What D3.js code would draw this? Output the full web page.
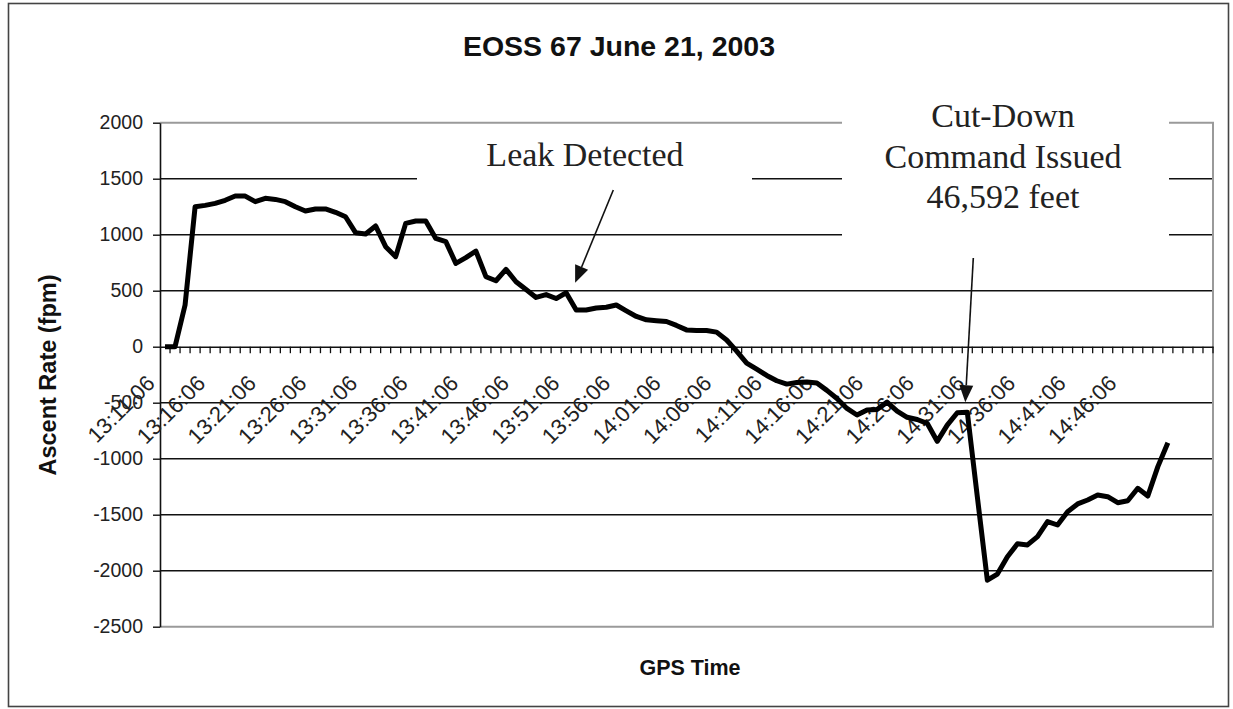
<!DOCTYPE html>
<html>
<head>
<meta charset="utf-8">
<script src="https://cdn.jsdelivr.net/npm/d3@7"></script>
<style>
  html, body { margin: 0; padding: 0; background: #fff; }
  svg { display: block; }
</style>
</head>
<body>
<svg id="chart" width="1233" height="709"></svg>
<script>
// ---------------- DATA ----------------
const categories = [
  "13:11:06","13:12:06","13:13:06","13:14:06","13:15:06","13:16:06","13:17:06","13:18:06","13:19:06","13:20:06",
  "13:21:06","13:22:06","13:23:06","13:24:06","13:25:06","13:26:06","13:27:06","13:28:06","13:29:06","13:30:06",
  "13:31:06","13:32:06","13:33:06","13:34:06","13:35:06","13:36:06","13:37:06","13:38:06","13:39:06","13:40:06",
  "13:41:06","13:42:06","13:43:06","13:44:06","13:45:06","13:46:06","13:47:06","13:48:06","13:49:06","13:50:06",
  "13:51:06","13:52:06","13:53:06","13:54:06","13:55:06","13:56:06","13:57:06","13:58:06","13:59:06","14:00:06",
  "14:01:06","14:02:06","14:03:06","14:04:06","14:05:06","14:06:06","14:07:06","14:08:06","14:09:06","14:10:06",
  "14:11:06","14:12:06","14:13:06","14:14:06","14:15:06","14:16:06","14:17:06","14:18:06","14:19:06","14:20:06",
  "14:21:06","14:22:06","14:23:06","14:24:06","14:25:06","14:26:06","14:27:06","14:28:06","14:29:06","14:30:06",
  "14:31:06","14:32:06","14:33:06","14:34:06","14:35:06","14:36:06","14:37:06","14:38:06","14:39:06","14:40:06",
  "14:41:06","14:42:06","14:43:06","14:44:06","14:45:06","14:46:06","14:47:06","14:48:06","14:49:06","14:50:06",
  "14:51:06","14:52:06","14:53:06","14:54:06","14:55:06"
];

// Ascent rate (fpm), one value per minute from 13:11:06
const ascentRate = [
  0, 0, 372, 1250, 1262, 1280, 1307, 1345, 1345, 1295,
  1325, 1315, 1295, 1250, 1212, 1230, 1230, 1200, 1160, 1018,
  1006, 1078, 893, 804, 1101, 1122, 1122, 967, 938, 744,
  795, 854, 625, 589, 691, 580, 510, 440, 465, 430,
  482, 328, 328, 345, 352, 372, 320, 270, 240, 232,
  225, 190, 150, 145, 145, 130, 60, -40, -147, -201,
  -257, -304, -334, -320, -315, -325, -390, -462, -551, -610,
  -565, -560, -495, -575, -630, -650, -684, -845, -700, -590,
  -585, -1340, -2085, -2030, -1875, -1760, -1770, -1696, -1562, -1592,
  -1473, -1404, -1369, -1324, -1339, -1393, -1375, -1264, -1333, -1071,
  -857
];

const xTickLabels = [
  "13:11:06","13:16:06","13:21:06","13:26:06","13:31:06","13:36:06","13:41:06","13:46:06","13:51:06","13:56:06",
  "14:01:06","14:06:06","14:11:06","14:16:06","14:21:06","14:26:06","14:31:06","14:36:06","14:41:06","14:46:06"
];
const yTicks = [2000, 1500, 1000, 500, 0, -500, -1000, -1500, -2000, -2500];

const titleText = "EOSS 67 June 21, 2003";
const xTitle = "GPS Time";
const yTitle = "Ascent Rate (fpm)";
const leakText = ["Leak Detected"];
const cutText = ["Cut-Down", "Command Issued", "46,592 feet"];
const leakIndex = 40;   // category the "Leak Detected" arrow points at
const cutIndex = 80;    // category the "Cut-Down" arrow points at

// ---------------- LAYOUT ----------------
const L = 160, R = 1213, T = 122.7, B = 626.7;
const sans = "'Liberation Sans', Arial, Helvetica, sans-serif";
const serif = "'Liberation Serif', 'Times New Roman', Times, serif";

const svg = d3.select("#chart");
svg.append("rect").attr("width", 1233).attr("height", 709).attr("fill", "#fff");

// outer chart border
svg.append("rect").attr("x", 8.5).attr("y", 3.5).attr("width", 1220).attr("height", 703)
  .attr("fill", "none").attr("stroke", "#444").attr("stroke-width", 1.6);

const x = d3.scaleBand().domain(categories).range([L, R]).paddingInner(0).paddingOuter(0);
const bw = x.bandwidth();
const cx = c => x(c) + bw / 2;
// label placement scale (Excel spreads the rotated labels slightly wider)
const xLab = d3.scaleBand().domain(categories).range([L, R + 10]);
const y = d3.scaleLinear().domain([-2500, 2000]).range([B, T]);

// gridlines (interior)
const g = svg.append("g");
g.selectAll("line.grid").data(yTicks.filter(v => v !== 2000 && v !== -2500 && v !== 0))
  .enter().append("line")
  .attr("x1", L).attr("x2", R).attr("y1", d => y(d)).attr("y2", d => y(d))
  .attr("stroke", "#111").attr("stroke-width", 1.4);

// plot area border (top, right, bottom) gray
svg.append("path")
  .attr("d", `M${L},${y(2000)}H${R}V${y(-2500)}H${L}`)
  .attr("fill", "none").attr("stroke", "#9a9a9a").attr("stroke-width", 2);

// y axis
const yAxis = svg.append("g").attr("transform", `translate(${L},0)`)
  .call(d3.axisLeft(y).tickValues(yTicks).tickSize(7).tickSizeOuter(0).tickPadding(10)
    .tickFormat(d => String(d)));
yAxis.select(".domain").attr("stroke", "#111").attr("stroke-width", 1.6);
yAxis.selectAll(".tick line").attr("stroke", "#111").attr("stroke-width", 1.4);
yAxis.selectAll(".tick text").attr("font-family", sans).attr("font-size", 19.5).attr("fill", "#222");

// x axis at value 0
const x0 = y(0);
const xAxis = svg.append("g").attr("transform", `translate(0,${x0})`)
  .call(d3.axisBottom(x).tickValues([]).tickSizeOuter(0));
xAxis.select(".domain").attr("stroke", "#111").attr("stroke-width", 1.6);
// tick marks between categories
svg.append("g").selectAll("line").data(categories.slice(1))
  .enter().append("line")
  .attr("x1", d => x(d)).attr("x2", d => x(d))
  .attr("y1", x0).attr("y2", x0 + 6.5)
  .attr("stroke", "#111").attr("stroke-width", 1.3);
svg.append("line").attr("x1", R).attr("x2", R).attr("y1", x0).attr("y2", x0 + 6.5)
  .attr("stroke", "#111").attr("stroke-width", 1.3);

// rotated category labels
svg.append("g").selectAll("text").data(xTickLabels)
  .enter().append("text")
  .attr("transform", d => `translate(${xLab(d) + xLab.bandwidth() / 2 - 9},${x0 + 38}) rotate(-45)`)
  .attr("text-anchor", "end")
  .attr("font-family", sans).attr("font-size", 22).attr("fill", "#222")
  .text(d => d);

// annotation boxes (white, hide gridlines)
svg.append("rect").attr("x", 417).attr("y", 132).attr("width", 335).attr("height", 80).attr("fill", "#fff");
svg.append("rect").attr("x", 842).attr("y", 94).attr("width", 327).attr("height", 166).attr("fill", "#fff");

// data line
const line = d3.line().x((d, i) => cx(categories[i])).y(d => y(d));
svg.append("path").datum(ascentRate)
  .attr("d", line)
  .attr("fill", "none").attr("stroke", "#000").attr("stroke-width", 5)
  .attr("stroke-linejoin", "round").attr("stroke-linecap", "butt");

// annotation texts
svg.append("text").attr("x", 585).attr("y", 166).attr("text-anchor", "middle")
  .attr("font-family", serif).attr("font-size", 34).attr("fill", "#222").text(leakText[0]);
svg.append("g").selectAll("text").data(cutText).enter().append("text")
  .attr("x", 1003).attr("y", (d, i) => 127.3 + i * 40.5).attr("text-anchor", "middle")
  .attr("font-family", serif).attr("font-size", 34).attr("fill", "#222").text(d => d);

// arrows
function arrow(x1, y1, x2, y2) {
  const ang = Math.atan2(y2 - y1, x2 - x1);
  const len = 17, half = 7;
  const bx = x2 - len * Math.cos(ang), by = y2 - len * Math.sin(ang);
  svg.append("line").attr("x1", x1).attr("y1", y1).attr("x2", bx).attr("y2", by)
    .attr("stroke", "#111").attr("stroke-width", 1.6);
  const p1 = [bx + half * Math.sin(ang), by - half * Math.cos(ang)];
  const p2 = [bx - half * Math.sin(ang), by + half * Math.cos(ang)];
  svg.append("path").attr("d", `M${x2},${y2}L${p1[0]},${p1[1]}L${p2[0]},${p2[1]}Z`).attr("fill", "#111");
}
arrow(613.3, 190, cx(categories[leakIndex]) + 9, y(ascentRate[leakIndex]) - 10);
arrow(973.3, 258, cx(categories[cutIndex]) - 2, y(ascentRate[cutIndex]) - 10);

// titles
svg.append("text").attr("x", 619).attr("y", 56).attr("text-anchor", "middle")
  .attr("font-family", sans).attr("font-weight", "bold").attr("font-size", 28.5).attr("fill", "#111")
  .text(titleText);
svg.append("text").attr("x", 690).attr("y", 675).attr("text-anchor", "middle")
  .attr("font-family", sans).attr("font-weight", "bold").attr("font-size", 21.5).attr("fill", "#111")
  .text(xTitle);
svg.append("text").attr("transform", "translate(56,375) rotate(-90)").attr("text-anchor", "middle")
  .attr("font-family", sans).attr("font-weight", "bold").attr("font-size", 23.5).attr("fill", "#111")
  .text(yTitle);
</script>
</body>
</html>
